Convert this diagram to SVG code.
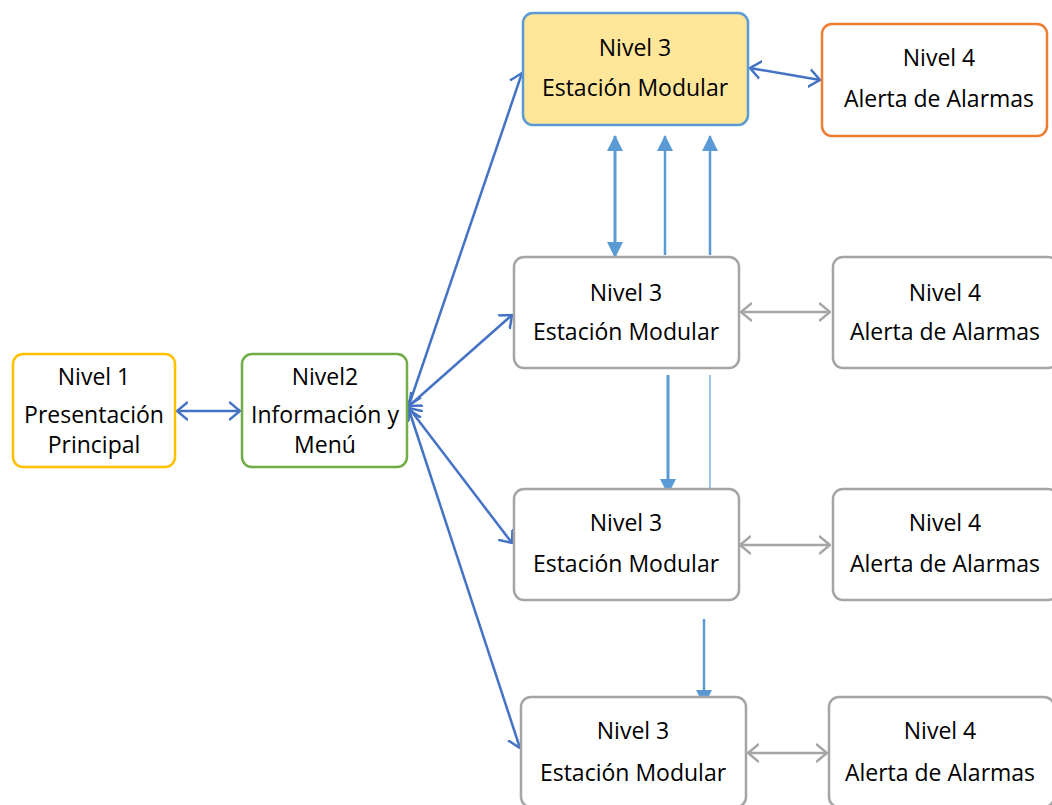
<svg xmlns="http://www.w3.org/2000/svg" width="1052" height="805" viewBox="0 0 1052 805">
  <style>
    .box { fill: #FFFFFF; stroke-width: 2.5; }
    .gray { stroke: #A5A5A5; }
    .lbl { font-family: "Open Sans", "Liberation Sans", sans-serif; font-size: 23px; fill: #000000; text-anchor: middle; }
    .link { fill: none; stroke: #4472C4; stroke-width: 2.5; }
    .glink { fill: none; stroke: #A5A5A5; stroke-width: 2.5; }
    .vlink { fill: none; stroke: #5B9BD5; stroke-width: 2.5; }
  </style>
  <defs>
    <marker id="openBlue" viewBox="0 0 12 20" refX="11" refY="10" markerWidth="12" markerHeight="20" markerUnits="userSpaceOnUse" orient="auto-start-reverse">
      <path d="M0,1 L11,10 L0,19" fill="none" stroke="#4472C4" stroke-width="2.5"/>
    </marker>
    <marker id="openGray" viewBox="0 0 12 20" refX="11" refY="10" markerWidth="12" markerHeight="20" markerUnits="userSpaceOnUse" orient="auto-start-reverse">
      <path d="M0,1 L11,10 L0,19" fill="none" stroke="#A5A5A5" stroke-width="2.5"/>
    </marker>
    <marker id="solidLight" viewBox="0 0 16 16" refX="15" refY="8" markerWidth="16" markerHeight="16" markerUnits="userSpaceOnUse" orient="auto-start-reverse">
      <path d="M0,0 L16,8 L0,16 Z" fill="#5B9BD5"/>
    </marker>
  </defs>

  <!-- connectors -->
  <g id="connectors">
    <line class="link" x1="177" y1="411" x2="240" y2="411" marker-start="url(#openBlue)" marker-end="url(#openBlue)"/>
    <line class="link" x1="409" y1="405" x2="522" y2="73" marker-start="url(#openBlue)" marker-end="url(#openBlue)"/>
    <line class="link" x1="409" y1="406" x2="512" y2="315" marker-start="url(#openBlue)" marker-end="url(#openBlue)"/>
    <line class="link" x1="409" y1="408" x2="512" y2="543" marker-start="url(#openBlue)" marker-end="url(#openBlue)"/>
    <line class="link" x1="409" y1="410" x2="520" y2="748" marker-start="url(#openBlue)" marker-end="url(#openBlue)"/>
    <line class="link" x1="750" y1="68" x2="820" y2="80" marker-start="url(#openBlue)" marker-end="url(#openBlue)"/>

    <line class="vlink" style="stroke-width:3" x1="615" y1="136" x2="615" y2="257" marker-start="url(#solidLight)" marker-end="url(#solidLight)"/>
    <line class="vlink" x1="665" y1="255" x2="665" y2="136" marker-end="url(#solidLight)"/>
    <line class="vlink" x1="710" y1="255" x2="710" y2="136" marker-end="url(#solidLight)"/>
    <line class="vlink" style="stroke-width:3" x1="668" y1="375" x2="668" y2="494" marker-end="url(#solidLight)"/>
    <line class="vlink" style="stroke-width:1.2" x1="710" y1="375" x2="710" y2="495"/>
    <line class="vlink" x1="704" y1="619" x2="704" y2="705" marker-end="url(#solidLight)"/>

    <line class="glink" x1="741" y1="312" x2="830" y2="312" marker-start="url(#openGray)" marker-end="url(#openGray)"/>
    <line class="glink" x1="740" y1="545" x2="830" y2="545" marker-start="url(#openGray)" marker-end="url(#openGray)"/>
    <line class="glink" x1="748" y1="753" x2="827" y2="753" marker-start="url(#openGray)" marker-end="url(#openGray)"/>
  </g>

  <!-- level 1 -->
  <g id="nivel1">
    <rect class="box" x="13" y="354" width="162" height="113" rx="10" stroke="#FFC000"/>
    <text class="lbl" x="94" y="385">Nivel 1</text>
    <text class="lbl" x="94" y="423">Presentación</text>
    <text class="lbl" x="94" y="453">Principal</text>
  </g>

  <!-- level 2 -->
  <g id="nivel2">
    <rect class="box" x="242" y="354" width="165" height="113" rx="10" stroke="#70AD47"/>
    <text class="lbl" x="325" y="385">Nivel2</text>
    <text class="lbl" x="325" y="423">Información y</text>
    <text class="lbl" x="325" y="453">Menú</text>
  </g>

  <!-- level 3, highlighted station -->
  <g id="nivel3a">
    <rect class="box" x="523" y="13" width="225" height="112" rx="10" stroke="#5B9BD5" style="fill:#FFE699"/>
    <text class="lbl" x="635" y="56">Nivel 3</text>
    <text class="lbl" x="635" y="96">Estación Modular</text>
  </g>
  <g id="nivel4a">
    <rect class="box" x="822" y="24" width="225" height="112" rx="10" stroke="#ED7D31"/>
    <text class="lbl" x="939" y="66">Nivel 4</text>
    <text class="lbl" x="939" y="107">Alerta de Alarmas</text>
  </g>

  <!-- level 3 / 4, second row -->
  <g id="nivel3b">
    <rect class="box gray" x="514" y="257" width="225" height="111" rx="10"/>
    <text class="lbl" x="626" y="301">Nivel 3</text>
    <text class="lbl" x="626" y="340">Estación Modular</text>
  </g>
  <g id="nivel4b">
    <rect class="box gray" x="833" y="257" width="225" height="111" rx="10"/>
    <text class="lbl" x="945" y="301">Nivel 4</text>
    <text class="lbl" x="945" y="340">Alerta de Alarmas</text>
  </g>

  <!-- third row -->
  <g id="nivel3c">
    <rect class="box gray" x="514" y="489" width="225" height="111" rx="10"/>
    <text class="lbl" x="626" y="531">Nivel 3</text>
    <text class="lbl" x="626" y="572">Estación Modular</text>
  </g>
  <g id="nivel4c">
    <rect class="box gray" x="833" y="489" width="225" height="111" rx="10"/>
    <text class="lbl" x="945" y="531">Nivel 4</text>
    <text class="lbl" x="945" y="572">Alerta de Alarmas</text>
  </g>

  <!-- fourth row -->
  <g id="nivel3d">
    <rect class="box gray" x="521" y="697" width="225" height="110" rx="10"/>
    <text class="lbl" x="633" y="739">Nivel 3</text>
    <text class="lbl" x="633" y="781">Estación Modular</text>
  </g>
  <g id="nivel4d">
    <rect class="box gray" x="829" y="697" width="225" height="110" rx="10"/>
    <text class="lbl" x="940" y="739">Nivel 4</text>
    <text class="lbl" x="940" y="781">Alerta de Alarmas</text>
  </g>
</svg>
